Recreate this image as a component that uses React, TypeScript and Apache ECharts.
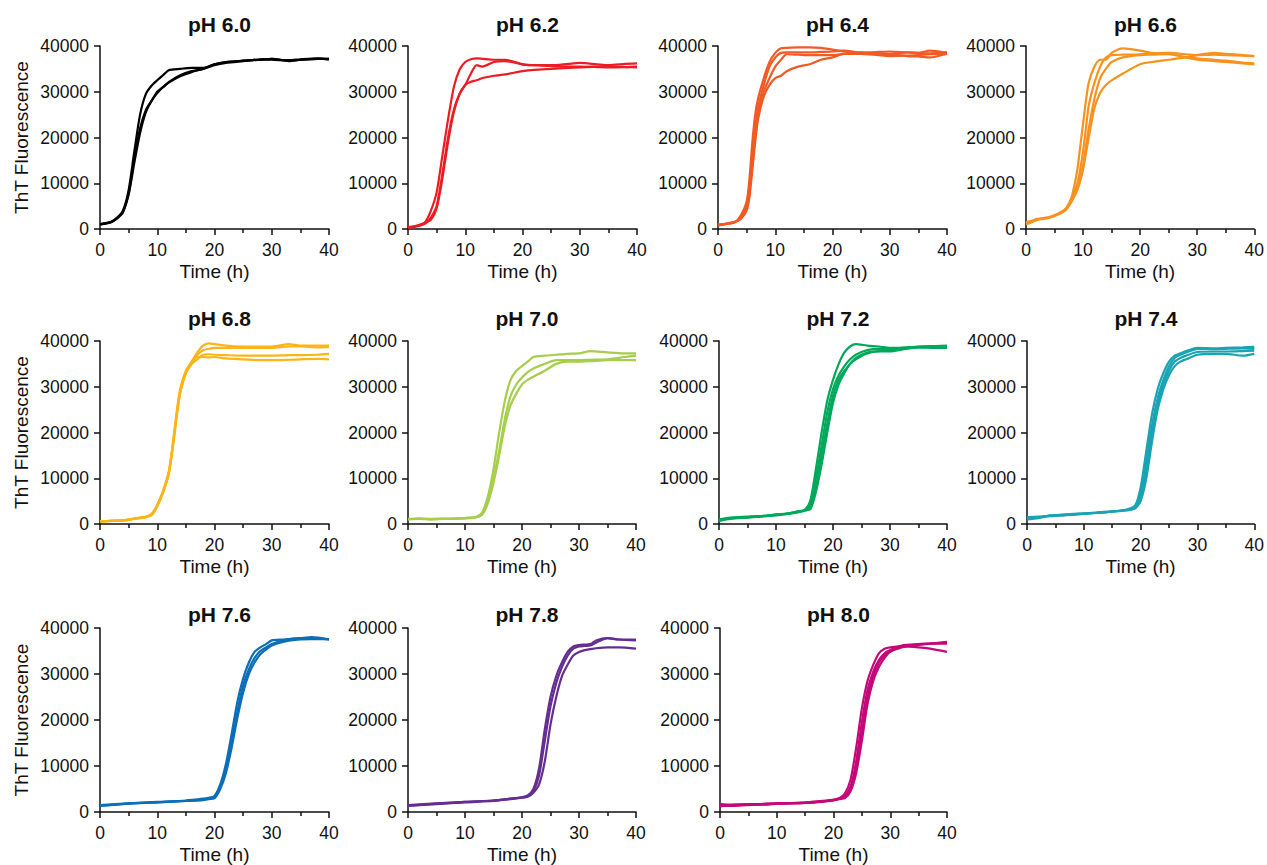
import React, { useEffect, useRef } from "react";
import * as echarts from "echarts";

// ---------- Data (fluorescence in thousands of units, time in hours) ----------
const PANEL_TITLES = ["pH 6.0", "pH 6.2", "pH 6.4", "pH 6.6", "pH 6.8", "pH 7.0", "pH 7.2", "pH 7.4", "pH 7.6", "pH 7.8", "pH 8.0"];
const PANEL_COLORS = ["#000000", "#EC1C24", "#F15A24", "#F7921E", "#FDB516", "#A6CE4A", "#00A85A", "#1AA3B3", "#0B6FB8", "#662D91", "#C4087A"];

const X_TICKS = [0, 10, 20, 30, 40];
const Y_TICKS = [0, 10000, 20000, 30000, 40000];

const T60 = [0, 1, 2, 3, 4, 5, 6, 7, 8, 9, 10, 11, 12, 14, 16, 18, 20, 22, 25, 28, 30, 33, 35, 38, 40];
const pH60_a = [1.0, 1.2, 1.6, 2.5, 4.0, 8.5, 17, 25, 29.5, 31.3, 32.5, 33.6, 34.7, 35.0, 35.2, 35.2, 36.0, 36.5, 36.8, 37.0, 37.2, 36.8, 37.0, 37.2, 37.2];
const pH60_b = [1.0, 1.2, 1.5, 2.3, 3.6, 7.8, 15.5, 22, 26, 28, 30, 31, 32.1, 33.6, 34.5, 35.0, 36.0, 36.5, 36.8, 37.0, 37.2, 36.7, 37.0, 37.2, 37.2];
const pH60_c = [1.1, 1.3, 1.6, 2.4, 3.8, 7.5, 14.5, 21, 25.5, 28, 29.7, 31, 32, 33.4, 34.3, 35.0, 35.8, 36.3, 36.7, 37.1, 37.0, 36.9, 37.1, 37.3, 37.0];

const T62 = [0, 1, 2, 3, 4, 5, 6, 7, 8, 9, 10, 11, 12, 13, 15, 17, 20, 22, 25, 28, 30, 33, 35, 38, 40];
const pH62_a = [0.3, 0.5, 0.8, 1.5, 4.0, 8.0, 16, 24, 31, 34.8, 36.5, 37.1, 37.3, 37.2, 37.0, 37.0, 36.0, 35.8, 35.6, 35.5, 35.5, 35.4, 35.3, 35.4, 35.5];
const pH62_b = [0.3, 0.4, 0.7, 1.2, 2.5, 5.0, 12, 20, 26, 29.5, 31.5, 34, 35.8, 35.5, 36.5, 36.7, 36.0, 35.8, 35.8, 36.1, 36.3, 36.0, 35.8, 36.1, 36.2];
const pH62_c = [0.4, 0.6, 0.9, 1.4, 2.0, 4.5, 11, 19, 25.5, 29.5, 31.5, 32.2, 32.5, 33.0, 33.5, 33.8, 34.5, 34.8, 35.0, 35.2, 35.3, 35.5, 35.5, 35.4, 35.3];

const T64 = [0, 1, 2, 3, 4, 5, 5.5, 6, 6.5, 7, 8, 9, 10, 11, 12, 14, 16, 18, 20, 22, 25, 28, 30, 33, 35, 37, 40];
const pH64_a = [0.8, 1.0, 1.2, 1.5, 3.0, 6.0, 11, 19, 25, 28.5, 33, 36.5, 38.5, 39.5, 39.6, 39.7, 39.7, 39.6, 39.2, 38.8, 38.5, 38.4, 38.3, 38.6, 38.5, 39.0, 38.5];
const pH64_b = [0.8, 1.0, 1.2, 1.5, 2.6, 5.0, 9, 16, 22, 26.5, 31.5, 35.5, 37.5, 38.5, 38.6, 38.6, 38.6, 38.7, 38.8, 39.0, 38.6, 38.7, 38.8, 38.6, 38.5, 38.4, 38.6];
const pH64_c = [0.9, 1.1, 1.3, 1.6, 2.4, 4.5, 8, 14, 20, 25, 30, 33, 35.5, 37, 38.2, 38.1, 38.0, 38.0, 38.0, 38.3, 38.3, 38.0, 37.8, 37.9, 38.0, 38.2, 38.3];
const pH64_d = [0.9, 1.1, 1.3, 1.6, 2.2, 4.0, 7, 13, 19, 24, 29, 31.5, 33, 33.5, 34.5, 35.5, 36.0, 37.0, 37.5, 38.3, 38.5, 38.3, 38.2, 37.8, 37.7, 37.5, 38.3];

const T66 = [0, 1, 2, 3, 4, 5, 6, 7, 8, 9, 9.5, 10, 10.5, 11, 12, 13, 14, 15, 17, 20, 22, 25, 28, 30, 33, 35, 38, 40];
const pH66_a = [1.0, 1.5, 2.0, 2.2, 2.5, 3.0, 3.5, 4.5, 7.0, 13, 18, 23, 28, 32, 35.5, 37, 37, 38.5, 39.5, 39.0, 38.5, 38.3, 37.5, 37.0, 36.7, 36.5, 36.2, 36.0];
const pH66_b = [1.2, 1.6, 2.1, 2.3, 2.5, 2.8, 3.5, 4.3, 6.5, 10, 13, 17, 22, 27, 32, 35.5, 37.5, 38.0, 38.1, 38.2, 38.4, 38.5, 38.2, 38.0, 38.1, 38.0, 37.9, 37.8];
const pH66_c = [1.5, 1.8, 2.2, 2.4, 2.6, 3.0, 3.6, 4.4, 6.2, 9, 11.5, 14, 18, 22, 28.5, 33, 35, 36.5, 37.5, 38.0, 38.1, 38.2, 37.6, 37.3, 37.0, 36.8, 36.4, 36.2];
const pH66_d = [1.3, 1.7, 2.1, 2.3, 2.4, 2.9, 3.4, 4.2, 6.0, 8.5, 10.5, 13, 16.5, 20, 26.5, 29.8, 31.5, 32.5, 34.0, 36.0, 36.5, 37.0, 37.5, 38.0, 38.5, 38.3, 38.0, 37.8];

const T68 = [0, 2, 4, 5, 6, 7, 8, 9, 10, 11, 12, 12.5, 13, 13.5, 14, 15, 16, 17, 18, 19, 20, 22, 25, 28, 30, 33, 35, 38, 40];
const pH68_a = [0.5, 0.7, 0.8, 0.9, 1.2, 1.3, 1.5, 2.0, 4.2, 7.2, 11.5, 15.5, 20.5, 25.5, 29.5, 33.5, 35.5, 37.5, 39.0, 39.5, 39.3, 39.0, 38.8, 38.8, 38.8, 39.3, 39.0, 39.0, 39.0];
const pH68_b = [0.5, 0.7, 0.8, 0.9, 1.1, 1.3, 1.6, 2.1, 4.0, 7.0, 11, 15, 20, 25, 29, 33, 35, 37, 38, 38.3, 38.5, 38.5, 38.5, 38.5, 38.5, 38.8, 38.8, 38.6, 38.7];
const pH68_c = [0.6, 0.7, 0.8, 0.9, 1.2, 1.4, 1.5, 1.9, 3.8, 6.8, 10.8, 14.8, 19.5, 24.5, 28.5, 33.3, 35, 36, 37, 37.1, 37, 36.9, 36.8, 36.8, 36.8, 36.9, 36.9, 37.0, 37.2];
const pH68_d = [0.6, 0.7, 0.8, 1.0, 1.2, 1.4, 1.6, 2.2, 4.1, 7.1, 11, 15, 19.8, 24.8, 28.8, 33, 35.3, 36.5, 36.5, 36.4, 36.5, 36.2, 36.0, 35.8, 35.8, 35.9, 36.0, 36.1, 36.0];

const T70 = [0, 2, 4, 6, 8, 10, 12, 13, 14, 15, 16, 17, 18, 19, 20, 21, 22, 24, 26, 28, 30, 32, 35, 38, 40];
const pH70_a = [1.0, 1.2, 1.1, 1.1, 1.2, 1.2, 1.6, 2.5, 6, 12, 20, 27, 31.5, 33.5, 34.5, 35.5, 36.5, 36.8, 37.0, 37.2, 37.3, 37.8, 37.5, 37.3, 37.3];
const pH70_b = [1.0, 1.1, 1.0, 1.2, 1.1, 1.3, 1.5, 2.2, 5, 10, 16, 23, 28, 30.5, 32, 33.2, 34, 35, 35.8, 35.8, 35.8, 35.9, 36.0, 36.5, 36.8];
const pH70_c = [1.1, 1.2, 1.0, 1.1, 1.2, 1.3, 1.5, 2.0, 4.5, 9, 15, 21.5, 26, 28.5, 30.5, 31.5, 32.2, 33.5, 35, 35.5, 35.5, 35.6, 35.8, 35.8, 35.8];

const T72 = [0, 2, 5, 8, 10, 12, 14, 15, 16, 17, 18, 19, 20, 21, 22, 23, 24, 26, 28, 30, 33, 35, 38, 40];
const pH72_a = [0.8, 1.3, 1.5, 1.7, 2.0, 2.2, 2.7, 3.0, 5.0, 12, 20, 27, 31.5, 35, 37.5, 38.8, 39.3, 39.0, 38.8, 38.5, 38.6, 38.7, 38.8, 38.8];
const pH72_b = [0.9, 1.2, 1.5, 1.8, 2.0, 2.3, 2.7, 3.0, 4.0, 10, 17, 24.5, 29.5, 32.5, 34.5, 36, 37, 38, 38.3, 38.3, 38.6, 38.8, 38.9, 39.0];
const pH72_c = [0.7, 1.1, 1.4, 1.7, 1.9, 2.2, 2.6, 2.9, 3.5, 8, 15, 22, 28, 31.5, 33.5, 35, 36.3, 37.5, 37.8, 38, 38.4, 38.6, 38.5, 38.5];
const pH72_d = [1.0, 1.4, 1.6, 1.8, 2.1, 2.3, 2.8, 3.0, 3.2, 7, 13, 20, 26.5, 30.5, 33, 35, 36, 37.3, 37.7, 37.7, 38.3, 38.6, 38.7, 38.7];

const T74 = [0, 2, 4, 6, 8, 10, 12, 14, 17, 19, 20, 21, 22, 23, 24, 25, 26, 27, 28, 30, 33, 35, 38, 40];
const pH74_a = [1.2, 1.5, 1.8, 1.9, 2.1, 2.3, 2.4, 2.6, 3.0, 4.0, 8, 16, 24, 29.5, 33, 35.5, 36.8, 37.3, 37.8, 38.5, 38.4, 38.5, 38.6, 38.7];
const pH74_b = [1.5, 1.6, 1.8, 2.0, 2.1, 2.3, 2.4, 2.6, 3.0, 3.6, 6.5, 13.5, 21.5, 27.5, 31.5, 34.5, 36.3, 37, 37.5, 38.3, 38.2, 38.3, 38.4, 38.3];
const pH74_c = [1.0, 1.3, 1.7, 1.9, 2.0, 2.2, 2.4, 2.6, 2.9, 3.5, 5.5, 11.5, 19.5, 26, 30.5, 33.5, 35.5, 36.3, 36.8, 37.6, 37.7, 37.7, 37.8, 37.9];
const pH74_d = [1.3, 1.4, 1.9, 2.0, 2.2, 2.3, 2.5, 2.7, 3.0, 3.4, 5, 10, 18, 25, 29.5, 32.5, 34.5, 35.5, 36, 37, 37.2, 37.2, 36.8, 37.2];

const T76 = [0, 5, 10, 15, 18, 19, 20, 21, 22, 23, 24, 25, 26, 27, 28, 29, 30, 32, 35, 37, 40];
const pH76_a = [1.4, 1.8, 2.1, 2.4, 2.7, 3.0, 3.5, 6, 10.5, 17, 24, 29, 32.5, 34.8, 35.8, 36.5, 37.3, 37.5, 37.8, 38.0, 37.5];
const pH76_b = [1.5, 1.9, 2.2, 2.5, 2.9, 3.1, 3.3, 5.5, 9.5, 15.5, 22, 27.5, 31, 33.5, 35, 35.8, 36.5, 37.3, 37.8, 37.8, 37.5];
const pH76_c = [1.3, 1.8, 2.1, 2.4, 2.6, 2.8, 3.0, 5, 8.5, 14, 20.5, 26, 30, 32.5, 34.3, 35.3, 36.2, 37, 37.5, 37.6, 37.6];

const T78 = [0, 5, 10, 15, 18, 20, 21, 22, 23, 24, 25, 26, 27, 28, 29, 30, 31, 32, 33, 35, 37, 40];
const pH78_a = [1.4, 1.8, 2.2, 2.5, 2.9, 3.2, 3.6, 5.0, 9.5, 18, 25, 29.5, 32.5, 34.8, 36, 36.3, 36.4, 36.5, 37.3, 37.8, 37.5, 37.3];
const pH78_b = [1.5, 1.9, 2.2, 2.5, 2.9, 3.2, 3.4, 4.5, 8, 15.5, 23, 28, 31.5, 34, 35.5, 36, 36.1, 36.2, 36.8, 37.8, 37.5, 37.5];
const pH78_c = [1.3, 1.7, 2.1, 2.4, 2.8, 3.1, 3.3, 4.2, 6, 11, 19, 25, 29.5, 32, 34, 34.8, 35.2, 35.4, 35.6, 35.8, 35.8, 35.5];

const T80 = [0, 2, 5, 8, 10, 15, 18, 20, 21, 22, 23, 24, 25, 26, 27, 28, 29, 30, 32, 35, 37, 40];
const pH80_a = [1.5, 1.4, 1.6, 1.6, 1.8, 2.0, 2.3, 2.6, 3.0, 4.0, 7, 14, 22.5, 28.5, 32, 34.5, 35.5, 35.8, 36, 35.8, 35.5, 34.8];
const pH80_b = [1.2, 1.5, 1.7, 1.7, 1.9, 2.0, 2.3, 2.7, 2.9, 3.5, 5.5, 11, 19.5, 26.5, 30.5, 33, 34.5, 35.2, 36.2, 36.5, 36.6, 36.8];
const pH80_c = [1.8, 1.6, 1.6, 1.7, 1.8, 2.1, 2.4, 2.6, 2.9, 3.2, 5, 9.5, 17, 25, 29.5, 32.5, 34, 35, 36, 36.3, 36.6, 37];
const pH80_d = [1.4, 1.3, 1.5, 1.8, 1.9, 2.0, 2.2, 2.5, 2.8, 3.0, 4.5, 8.5, 15.5, 23.5, 28.5, 31.5, 33.5, 34.8, 35.8, 36.5, 36.6, 36.6];

const PANEL_TIMES = [T60, T62, T64, T66, T68, T70, T72, T74, T76, T78, T80];
const PANEL_REPS = [
  [pH60_a, pH60_b, pH60_c],
  [pH62_a, pH62_b, pH62_c],
  [pH64_a, pH64_b, pH64_c, pH64_d],
  [pH66_a, pH66_b, pH66_c, pH66_d],
  [pH68_a, pH68_b, pH68_c, pH68_d],
  [pH70_a, pH70_b, pH70_c],
  [pH72_a, pH72_b, pH72_c, pH72_d],
  [pH74_a, pH74_b, pH74_c, pH74_d],
  [pH76_a, pH76_b, pH76_c],
  [pH78_a, pH78_b, pH78_c],
  [pH80_a, pH80_b, pH80_c, pH80_d],
];
const UNIT = 1000;

// ---------- Layout ----------
const GRID_BOXES = [
  [100, 46, 229, 183], [408, 46, 229, 183], [718, 46, 229, 183], [1026, 46, 229, 183],
  [100, 341, 229, 183], [408, 341, 228, 183], [719, 341, 228, 183], [1027, 341, 228, 183],
  [100, 628, 229, 184], [408, 628, 228, 184], [720, 628, 227, 184],
];
const TITLE_TOPS = [9, 303, 599];
const FONT = "'Liberation Sans', Arial, Helvetica, sans-serif";

function buildOption() {
  const grid: any[] = [];
  const xAxis: any[] = [];
  const yAxis: any[] = [];
  const series: any[] = [];
  const title: any[] = [];
  const graphic: any[] = [];

  GRID_BOXES.forEach((b, i) => {
    const [left, top, width, height] = b;
    const row = Math.floor(i / 4);
    grid.push({ left, top, width, height, containLabel: false });
    xAxis.push({
      type: "value",
      gridIndex: i,
      min: X_TICKS[0],
      max: X_TICKS[X_TICKS.length - 1],
      interval: 10,
      name: "Time (h)",
      nameLocation: "middle",
      nameGap: 33,
      nameTextStyle: { color: "#111", fontSize: 19, fontFamily: FONT },
      axisLine: { show: true, lineStyle: { color: "#111", width: 1.5 } },
      axisTick: { show: true, length: 6, lineStyle: { color: "#111", width: 1.5 } },
      minorTick: { show: true, splitNumber: 2, length: 4, lineStyle: { color: "#111", width: 1.5 } },
      axisLabel: { color: "#111", fontSize: 17.5, fontFamily: FONT, margin: 12 },
      splitLine: { show: false },
    });
    yAxis.push({
      type: "value",
      gridIndex: i,
      min: Y_TICKS[0],
      max: Y_TICKS[Y_TICKS.length - 1],
      interval: 10000,
      axisLine: { show: true, lineStyle: { color: "#111", width: 1.5 } },
      axisTick: { show: true, length: 6, lineStyle: { color: "#111", width: 1.5 } },
      axisLabel: {
        color: "#111",
        fontSize: 17.5,
        fontFamily: FONT,
        margin: 11,
        formatter: (v: number) => String(Math.round(v)),
      },
      splitLine: { show: false },
    });
    title.push({
      text: PANEL_TITLES[i],
      left: left + width / 2,
      top: TITLE_TOPS[row],
      textAlign: "center",
      textStyle: { color: "#111", fontSize: 21, fontWeight: "bold", fontFamily: FONT },
    });
    const times = PANEL_TIMES[i];
    PANEL_REPS[i].forEach((rep, r) => {
      series.push({
        type: "line",
        name: PANEL_TITLES[i] + " rep " + (r + 1),
        xAxisIndex: i,
        yAxisIndex: i,
        data: times.map((t, k) => [t, rep[k] * UNIT]),
        showSymbol: false,
        symbol: "none",
        smooth: 0.25,
        lineStyle: { color: PANEL_COLORS[i], width: 2.2 },
        itemStyle: { color: PANEL_COLORS[i] },
        clip: true,
        silent: true,
      });
    });
    if (i % 4 === 0) {
      graphic.push({
        type: "text",
        x: 21,
        y: top + height / 2,
        rotation: Math.PI / 2,
        style: {
          text: "ThT Fluorescence",
          fill: "#111",
          fontSize: 19,
          fontFamily: FONT,
          align: "center",
          verticalAlign: "middle",
        },
      });
    }
  });

  return {
    animation: false,
    backgroundColor: "#ffffff",
    title,
    grid,
    xAxis,
    yAxis,
    series,
    graphic,
  };
}

export default function App() {
  const ref = useRef<HTMLDivElement>(null);
  useEffect(() => {
    if (!ref.current) return;
    const chart = echarts.init(ref.current, undefined, { renderer: "svg" });
    chart.setOption(buildOption() as any);
    return () => chart.dispose();
  }, []);
  return (
    <div
      ref={ref}
      style={{ position: "fixed", left: 0, top: 0, width: 1267, height: 865, background: "#fff" }}
    />
  );
}
